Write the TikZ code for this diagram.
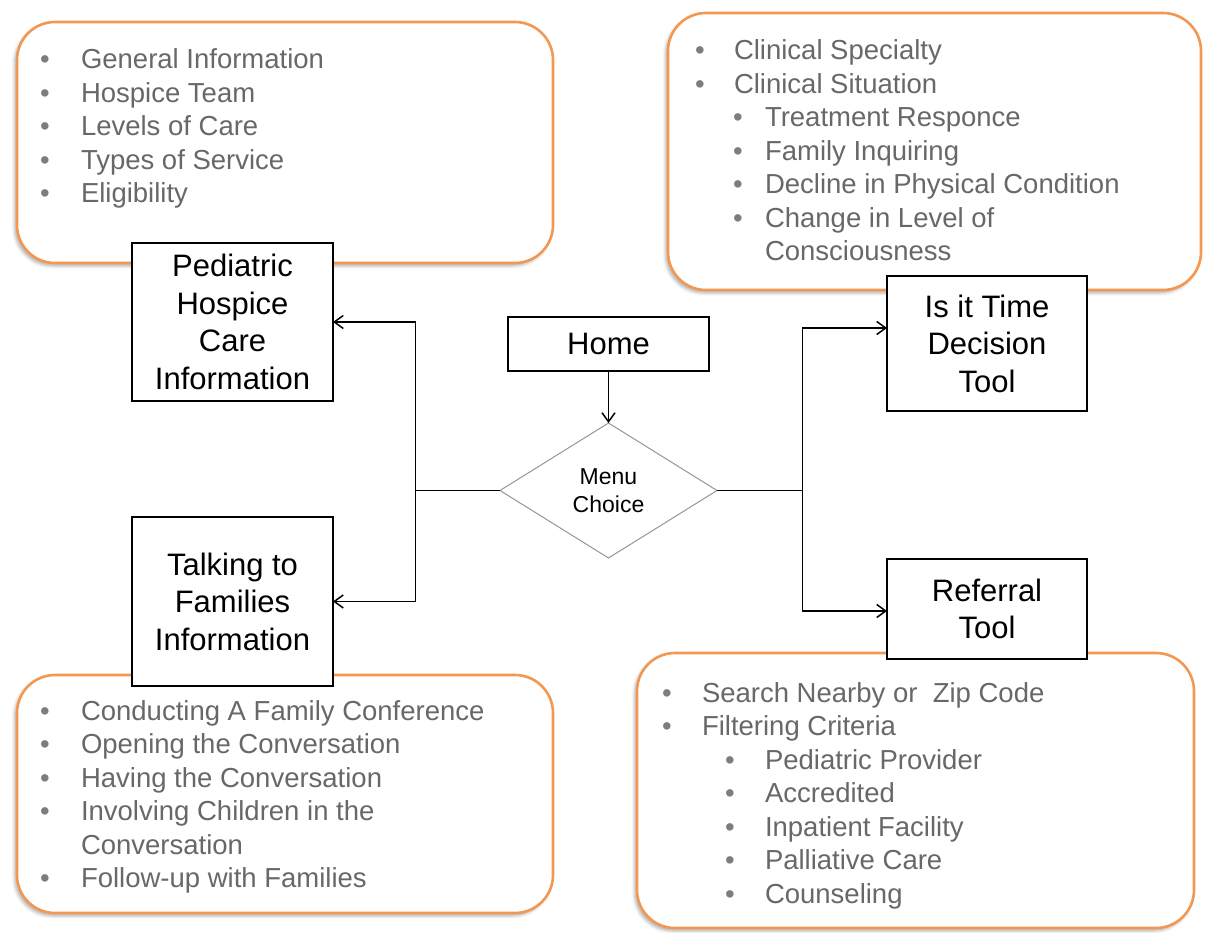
\documentclass[tikz,border=0pt]{standalone}
\usepackage{fontspec}
\setmainfont{Liberation Sans}
\usetikzlibrary{arrows.meta,shapes.geometric,shadows.blur}
\definecolor{infoorange}{RGB}{242,152,82}
\definecolor{listgray}{RGB}{104,104,104}
\definecolor{bulletgray}{RGB}{125,125,125}
\definecolor{choicegray}{RGB}{150,150,150}
% bullet line: [width of the bullet column]{text}
\newcommand{\bitem}[2][40.8pt]{\makebox[#1][l]{\color{bulletgray}\textbullet}#2}
\tikzset{
    info box/.style={draw=infoorange,line width=2.6pt,rounded corners=38pt,fill=white,
        blur shadow={shadow xshift=-2.5pt,shadow yshift=-3pt,shadow blur radius=3pt,shadow opacity=30}},
    page box/.style={draw=black,line width=2.6pt,fill=white,align=center,
        font=\fontsize{31}{37.5}\selectfont},
    choice box/.style={diamond,draw=choicegray,line width=1pt,fill=white,align=center,
        font=\fontsize{23}{28}\selectfont},
    item list/.style={anchor=base west,text=listgray,font=\fontsize{27.5}{33.5}\selectfont},
    conn/.style={line width=1.5pt},
    arr/.style={conn,-{Straight Barb[length=9pt,width=13pt,line width=1.5pt]}},
}
\tikzstyle{every node}=[inner sep=0pt,outer sep=0pt]

\begin{document}
\begin{tikzpicture}[x=1pt,y=-1pt]
    \useasboundingbox (0,0) rectangle (1209,933);
    % topic boxes behind the pages
    \node[info box,minimum width=536pt,minimum height=241pt] (general info) at (285,142.5) {};
    \node[info box,minimum width=533pt,minimum height=277pt] (timing info) at (934.5,151.5) {};
    \node[info box,minimum width=536pt,minimum height=238pt] (talking info) at (285,794) {};
    \node[info box,minimum width=557pt,minimum height=275pt] (referral info) at (915.5,790.5) {};

    \node[item list] (general list) at (40.2,69) {\begin{tabular}[t]{@{}l@{}}
        \bitem{General Information}\\
        \bitem{Hospice Team}\\
        \bitem{Levels of Care}\\
        \bitem{Types of Service}\\
        \bitem{Eligibility}
    \end{tabular}};
    \node[item list] (timing list) at (695.2,60) {\begin{tabular}[t]{@{}l@{}}
        \bitem[38.8pt]{Clinical Specialty}\\
        \bitem[38.8pt]{Clinical Situation}\\
        \hspace{38pt}\bitem[31.8pt]{Treatment Responce}\\
        \hspace{38pt}\bitem[31.8pt]{Family Inquiring}\\
        \hspace{38pt}\bitem[31.8pt]{Decline in Physical Condition}\\
        \hspace{38pt}\bitem[31.8pt]{Change in Level of}\\
        \hspace{69.8pt}Consciousness
    \end{tabular}};
    \node[item list] (talking list) at (40.2,720) {\begin{tabular}[t]{@{}l@{}}
        \bitem{Conducting A Family Conference}\\
        \bitem{Opening the Conversation}\\
        \bitem{Having the Conversation}\\
        \bitem{Involving Children in the}\\
        \hspace{40.8pt}Conversation\\
        \bitem{Follow-up with Families}
    \end{tabular}};
    \node[item list] (referral list) at (662.2,702) {\begin{tabular}[t]{@{}l@{}}
        \bitem[39.8pt]{Search Nearby or\ \ Zip Code}\\
        \bitem[39.8pt]{Filtering Criteria}\\
        \hspace{63pt}\bitem[39.8pt]{Pediatric Provider}\\
        \hspace{63pt}\bitem[39.8pt]{Accredited}\\
        \hspace{63pt}\bitem[39.8pt]{Inpatient Facility}\\
        \hspace{63pt}\bitem[39.8pt]{Palliative Care}\\
        \hspace{63pt}\bitem[39.8pt]{Counseling}
    \end{tabular}};

    % pages of the site
    \node[page box,minimum width=201pt,minimum height=54pt] (home) at (608.5,344) {Home};
    \node[choice box,minimum width=217pt,minimum height=135pt] (choice) at (608.5,490.5) {Menu\\Choice};
    \node[page box,minimum width=201pt,minimum height=158pt] (pediatric) at (232.5,322) {Pediatric\\Hospice\\Care\\Information};
    \node[page box,minimum width=201pt,minimum height=169pt] (talking) at (232.5,601.5) {Talking to\\Families\\Information};
    \node[page box,minimum width=200pt,minimum height=135pt] (is time) at (987,343.5) {Is it Time\\Decision\\Tool};
    \node[page box,minimum width=200pt,minimum height=100pt] (referral) at (987,609) {Referral\\Tool};

    \coordinate (left bus) at (415.5,490.5);
    \coordinate (right bus) at (802.5,490.5);

    \draw[arr] (home) -- (choice);
    \draw[conn] (choice.west) -- (left bus);
    \draw[arr] (left bus) |- (pediatric.east);
    \draw[arr] (left bus) |- (talking.east);
    \draw[conn] (choice.east) -- (right bus);
    \draw[arr] (right bus) |- ([yshift=15.5pt]is time.west);
    \draw[arr] (right bus) |- ([yshift=-2pt]referral.west);
\end{tikzpicture}
\end{document}
